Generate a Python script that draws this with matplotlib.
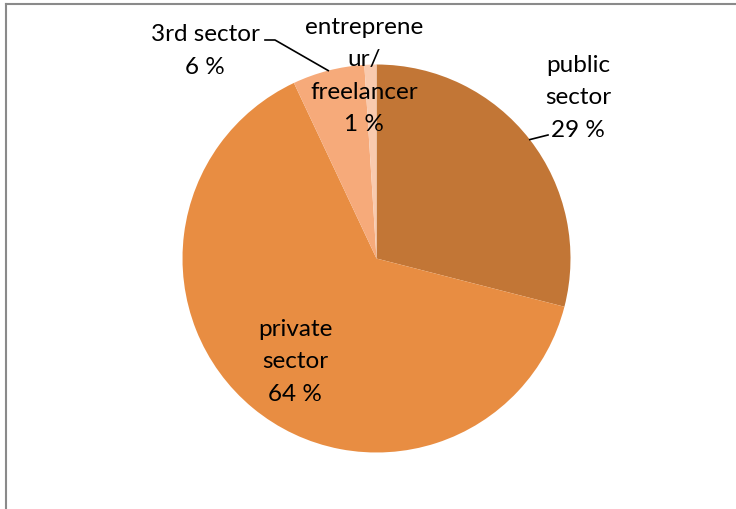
import numpy as np
import matplotlib.pyplot as plt
from matplotlib.lines import Line2D

plt.rcParams['font.family'] = ['Lato', 'DejaVu Sans']

# employment sector shares (%), clockwise from 12 o'clock
sectors = ['public\nsector', 'private\nsector', '3rd sector', 'entreprene\nur/\nfreelancer']
shares = [29, 64, 6, 1]
colors = ['#C27636', '#E88D42', '#F6AA7A', '#F9CAAE']

W, H = 736, 510
fig = plt.figure(figsize=(W / 100, H / 100), dpi=100)
ax = fig.add_axes([0, 0, 1, 1])

cx, cy, r = 376.5, 250.5, 194
wedges, _ = ax.pie(shares, colors=colors, startangle=90, counterclock=False,
                   center=(cx, cy), radius=r, frame=True,
                   wedgeprops=dict(linewidth=0))
ax.set_xlim(0, W)
ax.set_ylim(0, H)
ax.set_aspect('equal')
ax.axis('off')

# chart area border (only top and left edges are visible)
ax.add_line(Line2D([6, W], [505, 505], color='#8a8a8a', lw=1.5))
ax.add_line(Line2D([6, 6], [0, 505], color='#8a8a8a', lw=1.5))

labels = [f'{s}\n{v} %' for s, v in zip(sectors, shares)]
label_pos = [(578, 412), (295, 148), (205, 459), (364, 434)]
for lab, (x, y) in zip(labels, label_pos):
    ax.text(x, y, lab, ha='center', va='center', fontsize=17.5,
            linespacing=1.65, color='#000000')

# leader lines from wedge edges to outside labels
def edge_point(w):
    mid = np.radians((w.theta1 + w.theta2) / 2)
    return cx + r * np.cos(mid), cy + r * np.sin(mid)

px, py = edge_point(wedges[0])
ax.plot([px, 548], [py, 374], color='black', lw=1.2)
px, py = edge_point(wedges[2])
ax.plot([265, 275, px], [469, 469, py], color='black', lw=1.2)

fig.savefig('out.png', dpi=100)
